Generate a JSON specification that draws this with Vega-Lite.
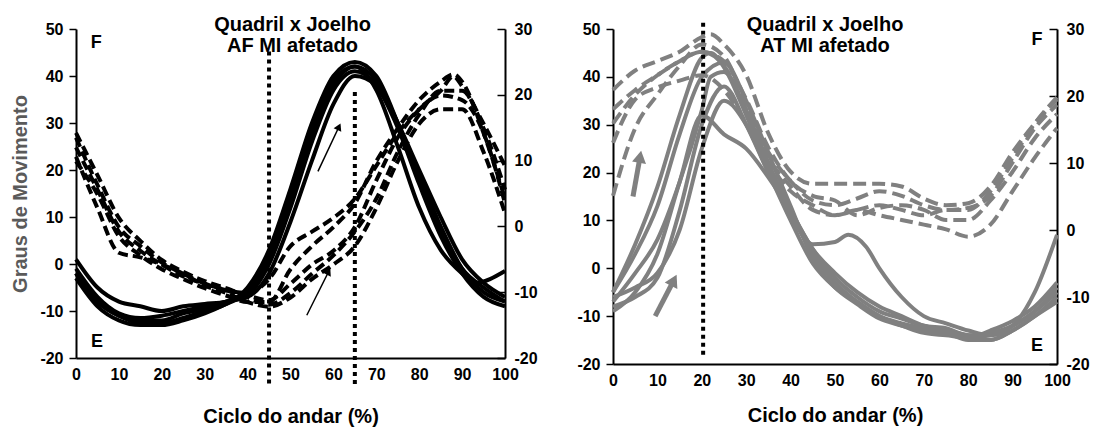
{
  "$schema": "https://vega.github.io/schema/vega-lite/v6.json",
  "padding": {"left": 10, "top": 14, "right": 5, "bottom": 5},
  "background": "white",
  "spacing": 38,
  "config": {
    "view": {"stroke": null},
    "font": "Liberation Sans",
    "axis": {"grid": false, "domainColor": "black", "domainWidth": 2, "tickColor": "black", "tickWidth": 1.5,
      "labelFont": "Liberation Sans", "labelFontWeight": "bold", "labelFontSize": 16, "labelColor": "black",
      "titleFont": "Liberation Sans", "titleFontWeight": "bold", "titleFontSize": 20, "titleColor": "black", "labelFlush": false,
      "labelExpr": "'' + datum.value"},
    "axisBottom": {"tickSize": 0, "labelPadding": 8, "titlePadding": 18},
    "axisLeft": {"tickSize": 7, "labelPadding": 6, "titlePadding": 9},
    "axisRight": {"tickSize": -8, "labelPadding": 17}
  },
  "datasets": {
    "leftSolid": [
      {"c":"S1","x":0,"y":-2},{"c":"S1","x":5,"y":-8},{"c":"S1","x":10,"y":-11},{"c":"S1","x":15,"y":-12.5},{"c":"S1","x":20,"y":-12.5},{"c":"S1","x":25,"y":-11.5},{"c":"S1","x":30,"y":-10},{"c":"S1","x":35,"y":-8.5},{"c":"S1","x":40,"y":-5},{"c":"S1","x":45,"y":3},{"c":"S1","x":50,"y":16},{"c":"S1","x":55,"y":30},{"c":"S1","x":60,"y":40},{"c":"S1","x":65,"y":43},{"c":"S1","x":70,"y":40},{"c":"S1","x":75,"y":30},{"c":"S1","x":80,"y":18},{"c":"S1","x":85,"y":7},{"c":"S1","x":90,"y":-1},{"c":"S1","x":95,"y":-5},{"c":"S1","x":100,"y":-8},
      {"c":"S2","x":0,"y":1},{"c":"S2","x":5,"y":-5},{"c":"S2","x":10,"y":-8},{"c":"S2","x":15,"y":-9},{"c":"S2","x":20,"y":-10},{"c":"S2","x":25,"y":-9},{"c":"S2","x":30,"y":-8.5},{"c":"S2","x":35,"y":-8},{"c":"S2","x":40,"y":-6.5},{"c":"S2","x":45,"y":0},{"c":"S2","x":50,"y":12},{"c":"S2","x":55,"y":26},{"c":"S2","x":60,"y":37},{"c":"S2","x":65,"y":41},{"c":"S2","x":70,"y":38},{"c":"S2","x":75,"y":29},{"c":"S2","x":80,"y":17},{"c":"S2","x":85,"y":6},{"c":"S2","x":90,"y":-2},{"c":"S2","x":95,"y":-7},{"c":"S2","x":100,"y":-9},
      {"c":"S3","x":0,"y":-3},{"c":"S3","x":5,"y":-9},{"c":"S3","x":10,"y":-12},{"c":"S3","x":15,"y":-13},{"c":"S3","x":20,"y":-13},{"c":"S3","x":25,"y":-12},{"c":"S3","x":30,"y":-10.5},{"c":"S3","x":35,"y":-8.5},{"c":"S3","x":40,"y":-6},{"c":"S3","x":45,"y":1},{"c":"S3","x":50,"y":13},{"c":"S3","x":55,"y":27},{"c":"S3","x":60,"y":38},{"c":"S3","x":65,"y":42},{"c":"S3","x":70,"y":39},{"c":"S3","x":75,"y":30},{"c":"S3","x":80,"y":19},{"c":"S3","x":85,"y":8},{"c":"S3","x":90,"y":-1},{"c":"S3","x":95,"y":-6},{"c":"S3","x":100,"y":-8},
      {"c":"S4","x":0,"y":-1},{"c":"S4","x":5,"y":-7},{"c":"S4","x":10,"y":-10.5},{"c":"S4","x":15,"y":-11.5},{"c":"S4","x":20,"y":-11},{"c":"S4","x":25,"y":-10},{"c":"S4","x":30,"y":-9},{"c":"S4","x":35,"y":-8},{"c":"S4","x":40,"y":-7},{"c":"S4","x":45,"y":-2},{"c":"S4","x":50,"y":9},{"c":"S4","x":55,"y":22},{"c":"S4","x":60,"y":34},{"c":"S4","x":65,"y":40},{"c":"S4","x":70,"y":38},{"c":"S4","x":75,"y":30},{"c":"S4","x":80,"y":20},{"c":"S4","x":85,"y":10},{"c":"S4","x":90,"y":1},{"c":"S4","x":95,"y":-4},{"c":"S4","x":100,"y":-7},
      {"c":"S5","x":0,"y":-2},{"c":"S5","x":5,"y":-8},{"c":"S5","x":10,"y":-11},{"c":"S5","x":15,"y":-12},{"c":"S5","x":20,"y":-12},{"c":"S5","x":25,"y":-10.5},{"c":"S5","x":30,"y":-9.5},{"c":"S5","x":35,"y":-8},{"c":"S5","x":40,"y":-6},{"c":"S5","x":45,"y":2},{"c":"S5","x":50,"y":14},{"c":"S5","x":55,"y":28},{"c":"S5","x":60,"y":39},{"c":"S5","x":65,"y":42},{"c":"S5","x":70,"y":37},{"c":"S5","x":75,"y":25},{"c":"S5","x":80,"y":12},{"c":"S5","x":85,"y":3},{"c":"S5","x":90,"y":-2},{"c":"S5","x":93,"y":-4},{"c":"S5","x":100,"y":-1.5}
    ],
    "leftDashed": [
      {"c":"D1","x":0,"y":14.2},{"c":"D1","x":5,"y":7.8},{"c":"D1","x":10,"y":1.3},{"c":"D1","x":15,"y":-2.2},{"c":"D1","x":20,"y":-5.1},{"c":"D1","x":25,"y":-6.9},{"c":"D1","x":30,"y":-8.3},{"c":"D1","x":35,"y":-9.4},{"c":"D1","x":40,"y":-10.5},{"c":"D1","x":45,"y":-11.2},{"c":"D1","x":50,"y":-8.7},{"c":"D1","x":55,"y":-5.8},{"c":"D1","x":60,"y":-3.7},{"c":"D1","x":65,"y":-0.1},{"c":"D1","x":70,"y":7.0},{"c":"D1","x":75,"y":13.5},{"c":"D1","x":80,"y":17.8},{"c":"D1","x":85,"y":20.6},{"c":"D1","x":88,"y":22.8},{"c":"D1","x":90,"y":21.3},{"c":"D1","x":95,"y":15.6},{"c":"D1","x":100,"y":9.2},
      {"c":"D2","x":0,"y":13.5},{"c":"D2","x":5,"y":6.3},{"c":"D2","x":10,"y":-0.1},{"c":"D2","x":15,"y":-3.0},{"c":"D2","x":20,"y":-5.5},{"c":"D2","x":25,"y":-7.2},{"c":"D2","x":30,"y":-8.7},{"c":"D2","x":35,"y":-9.7},{"c":"D2","x":40,"y":-10.8},{"c":"D2","x":45,"y":-11.9},{"c":"D2","x":50,"y":-10.1},{"c":"D2","x":55,"y":-7.2},{"c":"D2","x":60,"y":-4.4},{"c":"D2","x":65,"y":-0.8},{"c":"D2","x":70,"y":4.2},{"c":"D2","x":75,"y":11.3},{"c":"D2","x":80,"y":17.0},{"c":"D2","x":85,"y":20.6},{"c":"D2","x":90,"y":20.6},{"c":"D2","x":95,"y":14.9},{"c":"D2","x":100,"y":5.6},
      {"c":"D3","x":0,"y":10.6},{"c":"D3","x":5,"y":2.8},{"c":"D3","x":10,"y":-4.0},{"c":"D3","x":15,"y":-4.7},{"c":"D3","x":20,"y":-5.8},{"c":"D3","x":25,"y":-7.2},{"c":"D3","x":30,"y":-9.0},{"c":"D3","x":35,"y":-10.1},{"c":"D3","x":40,"y":-11.5},{"c":"D3","x":45,"y":-12.2},{"c":"D3","x":50,"y":-10.8},{"c":"D3","x":55,"y":-8.0},{"c":"D3","x":60,"y":-5.8},{"c":"D3","x":65,"y":-3.0},{"c":"D3","x":70,"y":2.8},{"c":"D3","x":75,"y":9.9},{"c":"D3","x":80,"y":15.6},{"c":"D3","x":85,"y":17.8},{"c":"D3","x":90,"y":17.8},{"c":"D3","x":95,"y":11.3},{"c":"D3","x":100,"y":2.0},
      {"c":"D4","x":0,"y":12.0},{"c":"D4","x":5,"y":5.6},{"c":"D4","x":10,"y":-0.8},{"c":"D4","x":15,"y":-3.7},{"c":"D4","x":20,"y":-5.8},{"c":"D4","x":25,"y":-7.6},{"c":"D4","x":30,"y":-8.7},{"c":"D4","x":35,"y":-9.7},{"c":"D4","x":40,"y":-10.1},{"c":"D4","x":45,"y":-8.0},{"c":"D4","x":50,"y":-3.0},{"c":"D4","x":55,"y":-0.8},{"c":"D4","x":60,"y":1.3},{"c":"D4","x":65,"y":4.2},{"c":"D4","x":70,"y":9.2},{"c":"D4","x":75,"y":14.2},{"c":"D4","x":80,"y":17.8},{"c":"D4","x":85,"y":19.9},{"c":"D4","x":90,"y":19.2},{"c":"D4","x":95,"y":14.2},{"c":"D4","x":100,"y":3.5},
      {"c":"D5","x":0,"y":9.9},{"c":"D5","x":5,"y":4.9},{"c":"D5","x":10,"y":-1.5},{"c":"D5","x":15,"y":-4.4},{"c":"D5","x":20,"y":-6.5},{"c":"D5","x":25,"y":-8.0},{"c":"D5","x":30,"y":-9.4},{"c":"D5","x":35,"y":-10.5},{"c":"D5","x":40,"y":-11.5},{"c":"D5","x":45,"y":-11.5},{"c":"D5","x":50,"y":-6.5},{"c":"D5","x":55,"y":-3.0},{"c":"D5","x":60,"y":-0.1},{"c":"D5","x":65,"y":3.5},{"c":"D5","x":70,"y":9.9},{"c":"D5","x":75,"y":14.9},{"c":"D5","x":80,"y":19.2},{"c":"D5","x":85,"y":22.0},{"c":"D5","x":88,"y":23.1},{"c":"D5","x":90,"y":22.0},{"c":"D5","x":95,"y":14.2},{"c":"D5","x":100,"y":4.2}
    ],
    "rightSolid": [
      {"c":"R1","x":0,"y":-5},{"c":"R1","x":5,"y":5},{"c":"R1","x":10,"y":17},{"c":"R1","x":15,"y":32},{"c":"R1","x":20,"y":44},{"c":"R1","x":22,"y":45},{"c":"R1","x":25,"y":42},{"c":"R1","x":30,"y":32},{"c":"R1","x":35,"y":21},{"c":"R1","x":40,"y":12},{"c":"R1","x":45,"y":4},{"c":"R1","x":50,"y":-2},{"c":"R1","x":55,"y":-6},{"c":"R1","x":60,"y":-9},{"c":"R1","x":65,"y":-10.5},{"c":"R1","x":70,"y":-12},{"c":"R1","x":75,"y":-12.5},{"c":"R1","x":80,"y":-14},{"c":"R1","x":85,"y":-13.5},{"c":"R1","x":90,"y":-12},{"c":"R1","x":95,"y":-9},{"c":"R1","x":100,"y":-5},
      {"c":"R2","x":0,"y":-7},{"c":"R2","x":5,"y":-1},{"c":"R2","x":10,"y":6},{"c":"R2","x":15,"y":18},{"c":"R2","x":20,"y":33},{"c":"R2","x":22,"y":40},{"c":"R2","x":25,"y":41},{"c":"R2","x":30,"y":33},{"c":"R2","x":35,"y":22},{"c":"R2","x":40,"y":12},{"c":"R2","x":45,"y":3},{"c":"R2","x":50,"y":-3},{"c":"R2","x":55,"y":-7},{"c":"R2","x":60,"y":-10},{"c":"R2","x":65,"y":-11.5},{"c":"R2","x":70,"y":-12.5},{"c":"R2","x":75,"y":-13},{"c":"R2","x":80,"y":-14.5},{"c":"R2","x":85,"y":-14},{"c":"R2","x":90,"y":-12},{"c":"R2","x":95,"y":-9},{"c":"R2","x":100,"y":-4},
      {"c":"R3","x":0,"y":-8},{"c":"R3","x":5,"y":-6},{"c":"R3","x":10,"y":-2},{"c":"R3","x":15,"y":12},{"c":"R3","x":20,"y":30},{"c":"R3","x":25,"y":38},{"c":"R3","x":30,"y":30},{"c":"R3","x":35,"y":20},{"c":"R3","x":40,"y":11},{"c":"R3","x":45,"y":5},{"c":"R3","x":50,"y":5.5},{"c":"R3","x":53,"y":7},{"c":"R3","x":57,"y":4.5},{"c":"R3","x":60,"y":0},{"c":"R3","x":65,"y":-6},{"c":"R3","x":70,"y":-10},{"c":"R3","x":75,"y":-11.5},{"c":"R3","x":80,"y":-13},{"c":"R3","x":85,"y":-14},{"c":"R3","x":90,"y":-12},{"c":"R3","x":95,"y":-5},{"c":"R3","x":100,"y":7},
      {"c":"R4","x":0,"y":-9},{"c":"R4","x":5,"y":-5},{"c":"R4","x":10,"y":3},{"c":"R4","x":15,"y":18},{"c":"R4","x":20,"y":32},{"c":"R4","x":25,"y":28},{"c":"R4","x":30,"y":25},{"c":"R4","x":35,"y":19},{"c":"R4","x":40,"y":12},{"c":"R4","x":45,"y":4},{"c":"R4","x":50,"y":-1},{"c":"R4","x":55,"y":-5},{"c":"R4","x":60,"y":-8},{"c":"R4","x":65,"y":-10},{"c":"R4","x":70,"y":-12},{"c":"R4","x":75,"y":-13},{"c":"R4","x":80,"y":-14},{"c":"R4","x":85,"y":-15},{"c":"R4","x":90,"y":-13},{"c":"R4","x":95,"y":-10},{"c":"R4","x":100,"y":-6},
      {"c":"R5","x":0,"y":-6},{"c":"R5","x":5,"y":-4},{"c":"R5","x":10,"y":-1},{"c":"R5","x":15,"y":8},{"c":"R5","x":20,"y":25},{"c":"R5","x":25,"y":35},{"c":"R5","x":30,"y":30},{"c":"R5","x":35,"y":20},{"c":"R5","x":40,"y":10},{"c":"R5","x":45,"y":1},{"c":"R5","x":50,"y":-4},{"c":"R5","x":55,"y":-7},{"c":"R5","x":60,"y":-10},{"c":"R5","x":65,"y":-12},{"c":"R5","x":70,"y":-13},{"c":"R5","x":75,"y":-13.5},{"c":"R5","x":80,"y":-15},{"c":"R5","x":85,"y":-15},{"c":"R5","x":90,"y":-13},{"c":"R5","x":95,"y":-10},{"c":"R5","x":100,"y":-7},
      {"c":"R6","x":0,"y":-5},{"c":"R6","x":5,"y":3},{"c":"R6","x":10,"y":13},{"c":"R6","x":15,"y":28},{"c":"R6","x":20,"y":40},{"c":"R6","x":25,"y":43},{"c":"R6","x":30,"y":35},{"c":"R6","x":35,"y":24},{"c":"R6","x":40,"y":13},{"c":"R6","x":45,"y":2},{"c":"R6","x":50,"y":-4},{"c":"R6","x":55,"y":-7.5},{"c":"R6","x":60,"y":-10.5},{"c":"R6","x":65,"y":-12},{"c":"R6","x":70,"y":-13.5},{"c":"R6","x":75,"y":-14},{"c":"R6","x":80,"y":-14.5},{"c":"R6","x":85,"y":-13},{"c":"R6","x":90,"y":-11},{"c":"R6","x":95,"y":-8},{"c":"R6","x":100,"y":-3}
    ],
    "rightDashed": [
      {"c":"T1","x":0,"y":20.9},{"c":"T1","x":5,"y":23.8},{"c":"T1","x":10,"y":25.2},{"c":"T1","x":15,"y":26.6},{"c":"T1","x":20,"y":28.8},{"c":"T1","x":22,"y":29.2},{"c":"T1","x":25,"y":27.7},{"c":"T1","x":30,"y":23.1},{"c":"T1","x":35,"y":14.4},{"c":"T1","x":40,"y":8.7},{"c":"T1","x":45,"y":6.9},{"c":"T1","x":50,"y":6.9},{"c":"T1","x":55,"y":6.9},{"c":"T1","x":60,"y":6.9},{"c":"T1","x":65,"y":6.5},{"c":"T1","x":70,"y":4.7},{"c":"T1","x":75,"y":3.7},{"c":"T1","x":80,"y":4.0},{"c":"T1","x":85,"y":6.5},{"c":"T1","x":90,"y":11.6},{"c":"T1","x":95,"y":15.9},{"c":"T1","x":100,"y":19.5},
      {"c":"T2","x":0,"y":18.0},{"c":"T2","x":5,"y":20.9},{"c":"T2","x":10,"y":23.1},{"c":"T2","x":15,"y":25.2},{"c":"T2","x":20,"y":26.6},{"c":"T2","x":25,"y":24.5},{"c":"T2","x":30,"y":18.0},{"c":"T2","x":35,"y":11.6},{"c":"T2","x":40,"y":7.3},{"c":"T2","x":45,"y":4.4},{"c":"T2","x":50,"y":3.7},{"c":"T2","x":55,"y":4.7},{"c":"T2","x":60,"y":5.8},{"c":"T2","x":65,"y":5.1},{"c":"T2","x":70,"y":3.7},{"c":"T2","x":75,"y":3.0},{"c":"T2","x":80,"y":3.3},{"c":"T2","x":85,"y":5.1},{"c":"T2","x":90,"y":10.1},{"c":"T2","x":95,"y":15.2},{"c":"T2","x":100,"y":18.7},
      {"c":"T3","x":0,"y":13.0},{"c":"T3","x":5,"y":19.5},{"c":"T3","x":10,"y":21.3},{"c":"T3","x":15,"y":22.3},{"c":"T3","x":20,"y":23.1},{"c":"T3","x":25,"y":20.9},{"c":"T3","x":30,"y":15.9},{"c":"T3","x":35,"y":10.1},{"c":"T3","x":40,"y":5.8},{"c":"T3","x":45,"y":3.7},{"c":"T3","x":50,"y":2.2},{"c":"T3","x":55,"y":3.0},{"c":"T3","x":60,"y":3.7},{"c":"T3","x":65,"y":3.0},{"c":"T3","x":70,"y":2.2},{"c":"T3","x":75,"y":3.0},{"c":"T3","x":80,"y":3.0},{"c":"T3","x":85,"y":5.8},{"c":"T3","x":90,"y":10.8},{"c":"T3","x":95,"y":15.9},{"c":"T3","x":100,"y":19.8},
      {"c":"T4","x":0,"y":5.1},{"c":"T4","x":5,"y":15.2},{"c":"T4","x":10,"y":20.2},{"c":"T4","x":15,"y":24.5},{"c":"T4","x":20,"y":27.7},{"c":"T4","x":25,"y":25.9},{"c":"T4","x":30,"y":18.7},{"c":"T4","x":35,"y":10.8},{"c":"T4","x":40,"y":6.5},{"c":"T4","x":45,"y":3.0},{"c":"T4","x":50,"y":2.2},{"c":"T4","x":55,"y":3.0},{"c":"T4","x":60,"y":2.2},{"c":"T4","x":65,"y":1.5},{"c":"T4","x":70,"y":0.8},{"c":"T4","x":75,"y":0.1},{"c":"T4","x":80,"y":-1.0},{"c":"T4","x":85,"y":0.8},{"c":"T4","x":90,"y":5.8},{"c":"T4","x":95,"y":10.8},{"c":"T4","x":100,"y":15.2},
      {"c":"T5","x":0,"y":15.9},{"c":"T5","x":5,"y":20.2},{"c":"T5","x":10,"y":23.1},{"c":"T5","x":15,"y":25.2},{"c":"T5","x":20,"y":26.6},{"c":"T5","x":25,"y":25.2},{"c":"T5","x":30,"y":19.5},{"c":"T5","x":35,"y":12.3},{"c":"T5","x":40,"y":7.3},{"c":"T5","x":45,"y":5.1},{"c":"T5","x":50,"y":4.4},{"c":"T5","x":55,"y":2.2},{"c":"T5","x":60,"y":3.3},{"c":"T5","x":65,"y":3.7},{"c":"T5","x":70,"y":3.0},{"c":"T5","x":75,"y":1.5},{"c":"T5","x":80,"y":1.5},{"c":"T5","x":85,"y":4.4},{"c":"T5","x":90,"y":8.7},{"c":"T5","x":95,"y":13.7},{"c":"T5","x":100,"y":17.3}
    ]
  },
  "hconcat": [
    {
      "width": 429, "height": 329,
      "title": {"text": ["Quadril x Joelho", "AF MI afetado"], "font": "Liberation Sans", "fontSize": 20, "fontWeight": "bold", "color": "black", "anchor": "middle", "frame": "group", "offset": -35, "lineHeight": 21, "dx": 2},
      "encoding": {
        "x": {"field": "x", "type": "quantitative", "title": "Ciclo do andar (%)", "scale": {"domain": [0, 100], "nice": false}, "axis": {"values": [0,10,20,30,40,50,60,70,80,90,100], "titlePadding": 24}}
      },
      "layer": [
        {
          "encoding": {
            "y": {"field": "y", "type": "quantitative", "title": "Graus de Movimento", "scale": {"domain": [-20, 50], "nice": false, "zero": false}, "axis": {"values": [-20,-10,0,10,20,30,40,50], "titleColor": "#5a5a5a"}}
          },
          "layer": [
            {
              "data": {"name": "leftSolid"},
              "mark": {"type": "line", "color": "black", "strokeWidth": 4, "interpolate": "monotone"},
              "encoding": {"detail": {"field": "c"}}
            },
            {
              "data": {"values": [{"x": 45, "y": 45.2, "yb": -26.3}, {"x": 65, "y": 36.6, "yb": -26.3}]},
              "mark": {"type": "rule", "color": "black", "strokeWidth": 4, "strokeDash": [4, 4]},
              "encoding": {"y2": {"field": "yb"}}
            },
            {
              "data": {"values": [{"x": 4.7, "y": 47, "t": "F"}, {"x": 4.9, "y": -16.7, "t": "E"}]},
              "mark": {"type": "text", "font": "Liberation Sans", "fontSize": 18, "fontWeight": "bold", "color": "black"},
              "encoding": {"text": {"field": "t"}}
            },
            {
              "data": {"values": [{"x": 56.4, "y": 19.7, "xe": 61.3, "ye": 29.2}, {"x": 53.8, "y": -10.9, "xe": 58.9, "ye": -1.6}]},
              "mark": {"type": "rule", "color": "black", "strokeWidth": 1.5},
              "encoding": {"x2": {"field": "xe"}, "y2": {"field": "ye"}}
            },
            {
              "data": {"values": [{"x": 61.3, "y": 29.2}]},
              "mark": {"type": "point", "shape": "triangle-up", "filled": true, "color": "black", "size": 70, "angle": 25, "opacity": 1}
            },
            {
              "data": {"values": [{"x": 58.9, "y": -1.6}]},
              "mark": {"type": "point", "shape": "triangle-up", "filled": true, "color": "black", "size": 70, "angle": 27, "opacity": 1}
            }
          ]
        },
        {
          "data": {"name": "leftDashed"},
          "mark": {"type": "line", "color": "black", "strokeWidth": 4, "strokeDash": [10, 5], "interpolate": "monotone"},
          "encoding": {
            "y": {"field": "y", "type": "quantitative", "title": null, "scale": {"domain": [-20, 30], "nice": false, "zero": false}, "axis": {"orient": "right", "values": [-20,-10,0,10,20,30]}},
            "detail": {"field": "c"}
          }
        }
      ],
      "resolve": {"scale": {"y": "independent"}}
    },
    {
      "width": 444, "height": 335,
      "title": {"text": ["Quadril x Joelho", "AT MI afetado"], "font": "Liberation Sans", "fontSize": 20, "fontWeight": "bold", "color": "black", "anchor": "middle", "frame": "group", "offset": -35, "lineHeight": 21, "dx": -10},
      "encoding": {
        "x": {"field": "x", "type": "quantitative", "title": "Ciclo do andar (%)", "scale": {"domain": [0, 100], "nice": false}, "axis": {"values": [0,10,20,30,40,50,60,70,80,90,100], "titlePadding": 17}}
      },
      "layer": [
        {
          "encoding": {
            "y": {"field": "y", "type": "quantitative", "title": null, "scale": {"domain": [-20, 50], "nice": false, "zero": false}, "axis": {"values": [-20,-10,0,10,20,30,40,50]}}
          },
          "layer": [
            {
              "data": {"name": "rightSolid"},
              "mark": {"type": "line", "color": "#808080", "strokeWidth": 4, "interpolate": "monotone"},
              "encoding": {"detail": {"field": "c"}}
            },
            {
              "data": {"values": [{"x": 20.3, "y": 51.3, "yb": -18.3}]},
              "mark": {"type": "rule", "color": "black", "strokeWidth": 4, "strokeDash": [4, 4]},
              "encoding": {"y2": {"field": "yb"}}
            },
            {
              "data": {"values": [{"x": 95.5, "y": 47.6, "t": "F"}, {"x": 95.5, "y": -16.2, "t": "E"}]},
              "mark": {"type": "text", "font": "Liberation Sans", "fontSize": 18, "fontWeight": "bold", "color": "black"},
              "encoding": {"text": {"field": "t"}}
            },
            {
              "data": {"values": [{"x": 4.5, "y": 15, "xe": 6.1, "ye": 23.3}, {"x": 9.5, "y": -10, "xe": 13.7, "ye": -2.5}]},
              "mark": {"type": "rule", "color": "#808080", "strokeWidth": 5},
              "encoding": {"x2": {"field": "xe"}, "y2": {"field": "ye"}}
            },
            {
              "data": {"values": [{"x": 6.1, "y": 23.3}]},
              "mark": {"type": "point", "shape": "triangle-up", "filled": true, "color": "#808080", "size": 200, "angle": 10, "opacity": 1}
            },
            {
              "data": {"values": [{"x": 13.7, "y": -2.5}]},
              "mark": {"type": "point", "shape": "triangle-up", "filled": true, "color": "#808080", "size": 200, "angle": 27, "opacity": 1}
            }
          ]
        },
        {
          "data": {"name": "rightDashed"},
          "mark": {"type": "line", "color": "#808080", "strokeWidth": 4, "strokeDash": [13, 6], "interpolate": "monotone"},
          "encoding": {
            "y": {"field": "y", "type": "quantitative", "title": null, "scale": {"domain": [-20, 30], "nice": false, "zero": false}, "axis": {"orient": "right", "values": [-20,-10,0,10,20,30]}},
            "detail": {"field": "c"}
          }
        }
      ],
      "resolve": {"scale": {"y": "independent"}}
    }
  ]
}
